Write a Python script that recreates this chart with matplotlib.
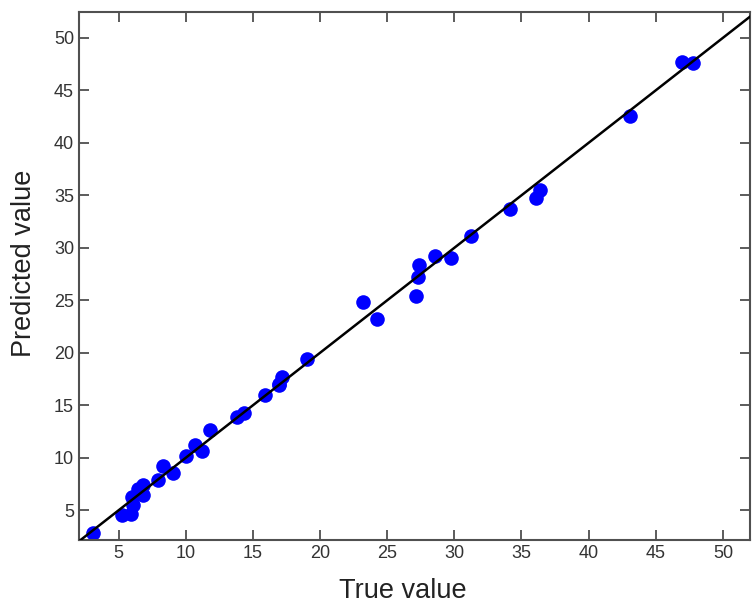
import matplotlib
matplotlib.use("Agg")
import matplotlib.pyplot as plt
import numpy as np

true_vals = [3.1, 5.24, 5.93, 6.1, 6.03, 6.47, 6.85, 6.85, 7.92, 8.34, 9.08, 10.0, 10.7, 11.19,
             11.81, 13.8, 14.34, 15.9, 16.97, 16.97, 17.2, 19.0, 23.18, 24.22, 27.15, 27.28,
             27.4, 28.57, 29.74, 31.22, 34.15, 36.09, 36.38, 43.09, 46.94, 47.8]
pred_vals = [2.8, 4.52, 4.69, 5.5, 6.27, 7.07, 7.38, 6.43, 7.93, 9.19, 8.56, 10.15, 11.26, 10.62,
             12.62, 13.9, 14.28, 15.96, 17.0, 16.9, 17.7, 19.4, 24.86, 23.2, 25.4, 27.18,
             28.4, 29.2, 29.0, 31.15, 33.7, 34.77, 35.5, 42.56, 47.74, 47.65]
ticks = [5, 10, 15, 20, 25, 30, 35, 40, 45, 50]

plt.rcParams['font.family'] = ['Liberation Sans', 'DejaVu Sans']
fig = plt.figure(figsize=(7.52, 6.07), dpi=100)
ax = fig.add_axes([0.105, 0.110, 0.892, 0.870])

ax.plot(true_vals, pred_vals, 'o', color='#0000ff', markersize=10.5, markeredgewidth=0, zorder=2)
lims = [2.0, 52.5]
ax.plot(lims, lims, '-', color='black', linewidth=1.8, zorder=3)

ax.set_xlim(2.05, 52.0)
ax.set_ylim(2.15, 52.45)
ax.set_xticks(ticks)
ax.set_yticks(ticks)
ax.tick_params(direction='in', top=True, right=True, length=7, width=1.2,
               labelsize=13, colors='#404040', labelcolor='#333333')
for s in ax.spines.values():
    s.set_linewidth(1.5)
    s.set_color('#505050')

ax.set_xlabel('True value', fontsize=19.5, color='#222222')
ax.set_ylabel('Predicted value', fontsize=19.5, color='#222222')
ax.xaxis.set_label_coords(0.483, -0.072)
ax.yaxis.set_label_coords(-0.062, 0.525)

fig.savefig('out.png', dpi=100)
